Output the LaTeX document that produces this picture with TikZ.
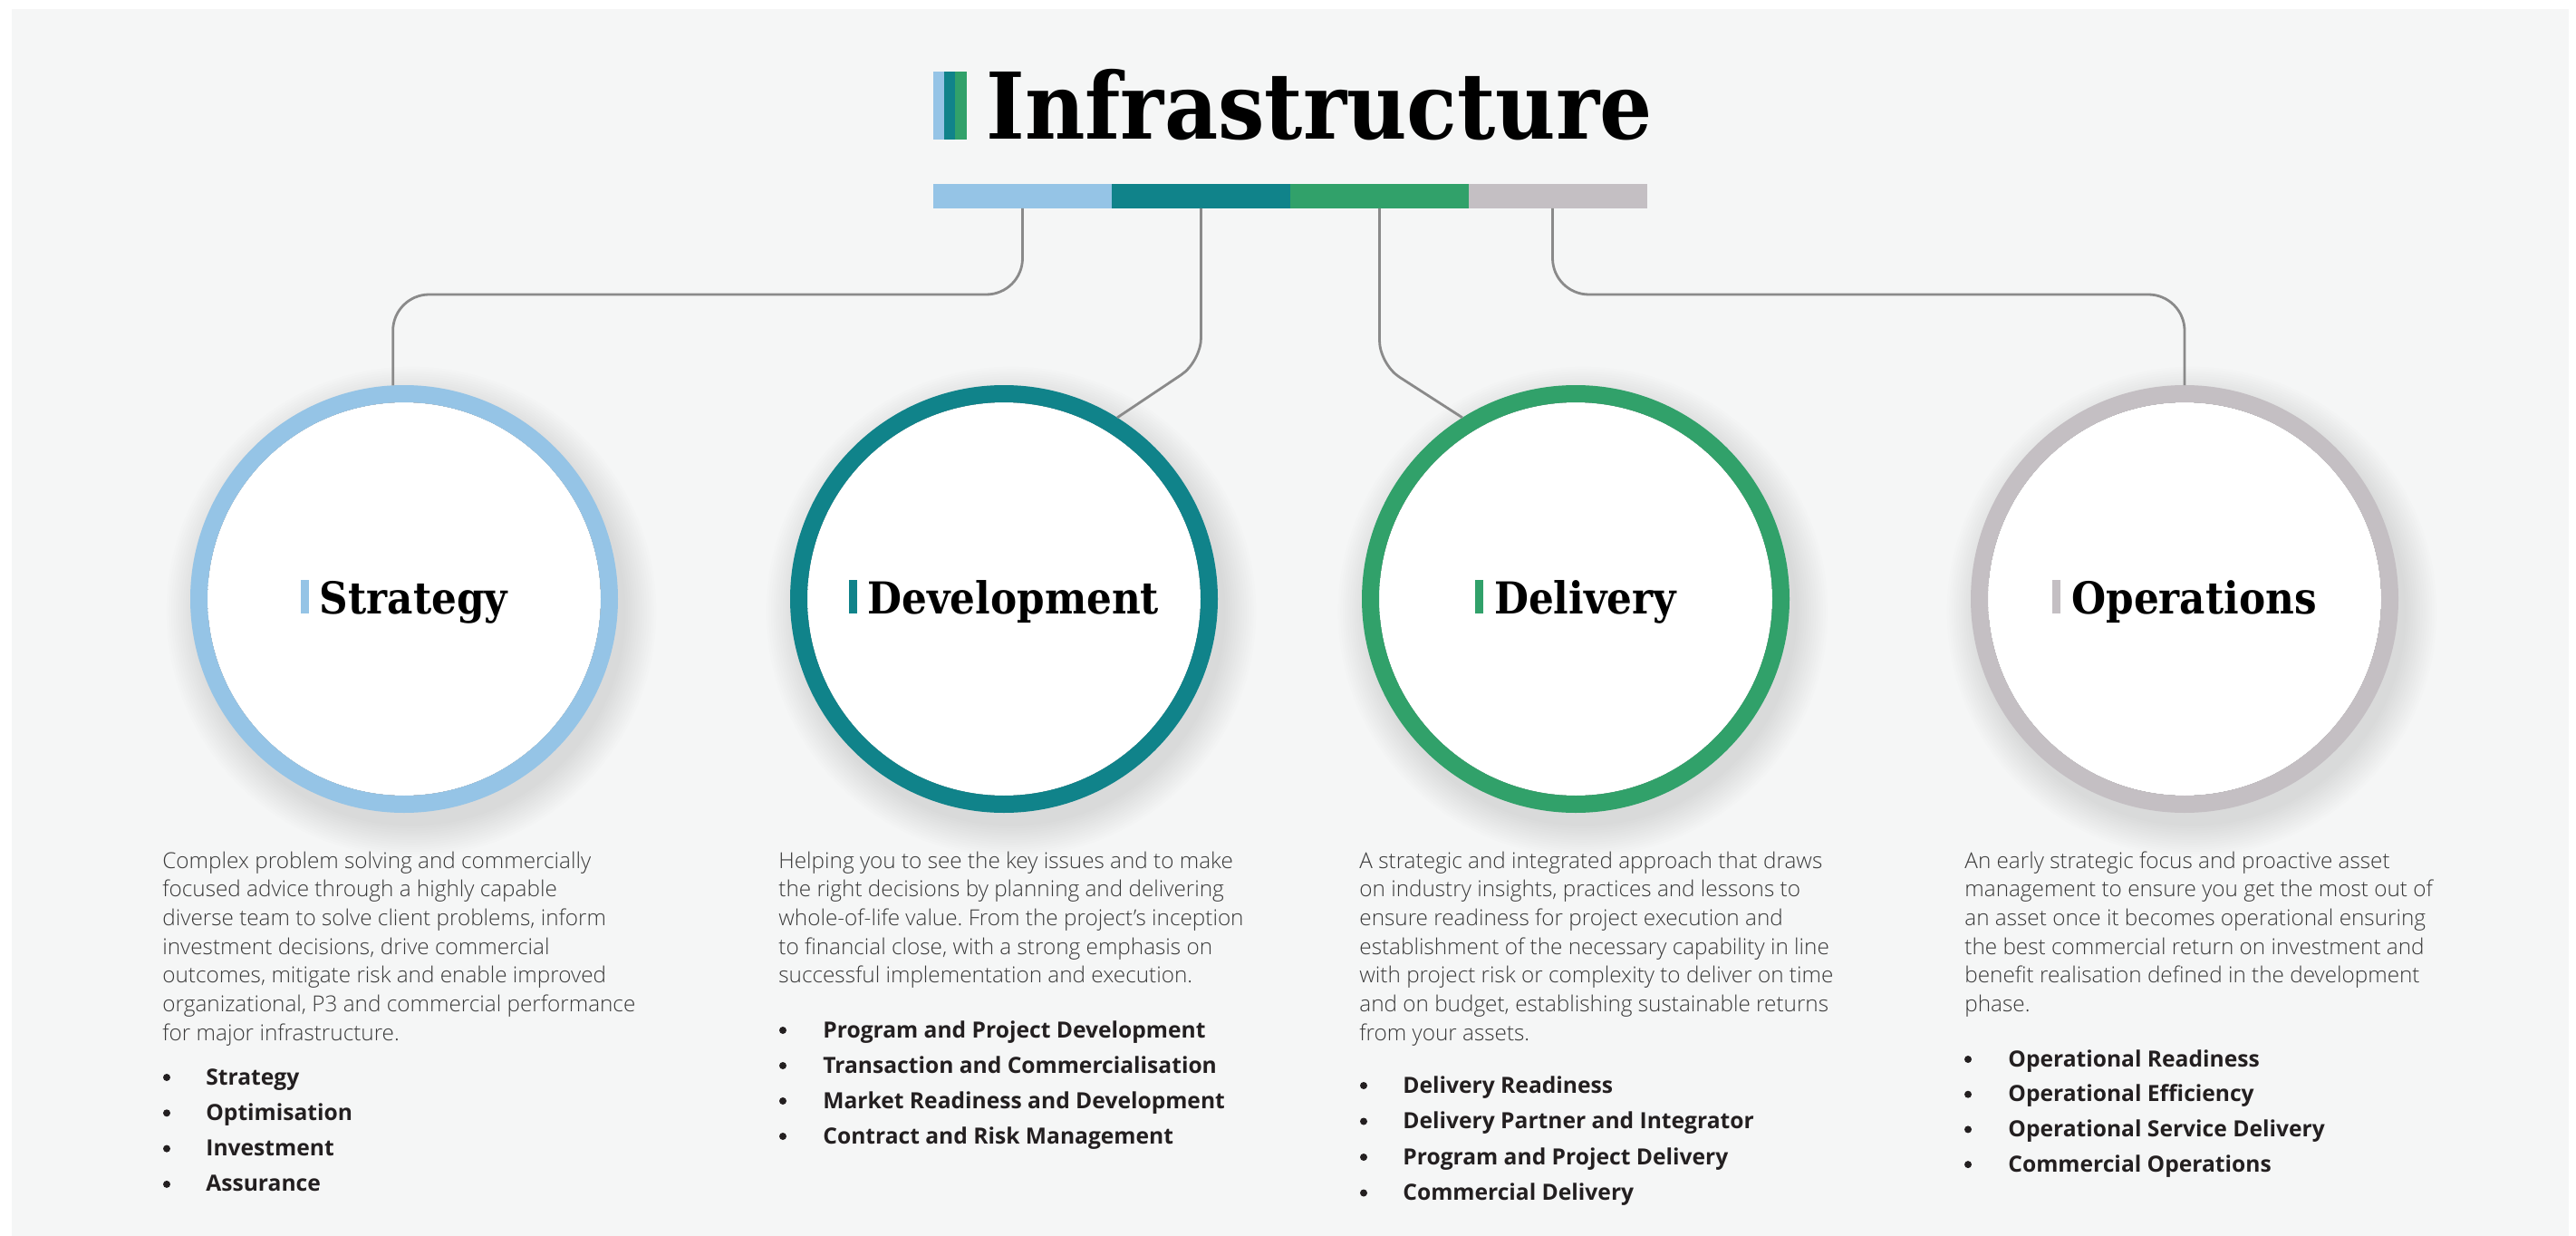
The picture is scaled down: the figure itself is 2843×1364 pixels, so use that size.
\documentclass[tikz,border=0pt]{standalone}
\usepackage{fontspec}
\usetikzlibrary{calc}
\IfFontExistsTF{Open Sans Light}{\newfontfamily\bodyfont{Open Sans Light}}{\newfontfamily\bodyfont{Open Sans}}
\newfontfamily\itemfont{Open Sans}
\IfFontExistsTF{DejaVu Serif Condensed}{\newfontfamily\headfont{DejaVu Serif Condensed}}{\newfontfamily\headfont{DejaVu Serif}[FakeStretch=0.9]}
\definecolor{cblue}{HTML}{95C4E6}
\definecolor{cteal}{HTML}{10838A}
\definecolor{cgreen}{HTML}{31A16A}
\definecolor{cgray}{HTML}{C4BFC3}
\definecolor{bgcol}{HTML}{F5F6F6}
\definecolor{conncol}{HTML}{8A8A8A}
\definecolor{bodycol}{HTML}{3A3A3A}
\definecolor{itemcol}{HTML}{231F20}
\frenchspacing
\pgfdeclareradialshading{innerglow}{\pgfpoint{0bp}{0bp}}{color(0bp)=(white); color(43bp)=(white); color(50bp)=(black!9); color(70bp)=(black!9)}
\begin{document}
\begin{tikzpicture}[x=0.5pt,y=-0.5pt,
  conn/.style={draw=conncol, line width=1.4pt, rounded corners=20pt},
  ringnode/.style={circle, minimum size=226.5pt, inner sep=0pt, line width=9.5pt, draw=#1},
  barseg/.style={rectangle, fill=#1, minimum width=98.5pt, minimum height=13.5pt, inner sep=0pt, outer sep=0pt, anchor=north west},
  circlabel/.style={anchor=base, inner sep=0pt, font=\headfont\bfseries\fontsize{24.3}{29}\selectfont},
  paratext/.style={anchor=base west, inner sep=0pt, font=\bodyfont\fontsize{12.15}{14}\selectfont, text=bodycol},
  itemtext/.style={anchor=base west, inner sep=0pt, font=\itemfont\bfseries\fontsize{12.3}{14}\selectfont, text=itemcol},
  bulletdot/.style={circle, fill=itemcol, minimum size=4pt, inner sep=0pt}
]
\useasboundingbox (0,0) rectangle (2843,1364);
\fill[white] (0,0) rectangle (2843,1364);
\fill[bgcol] (13,10) rectangle (2835,1364);

% title
\fill[cblue] (1030,79) rectangle (1042,154);
\fill[cteal] (1042,79) rectangle (1054,154);
\fill[cgreen] (1054,79) rectangle (1067,154);
\node[anchor=base west, inner sep=0pt, font=\headfont\bfseries\fontsize{50.8}{60}\selectfont] (title) at (1088,154) {Infrastructure};

% colour bar
\node[barseg=cblue] (s1) at (1030,203) {};
\node[barseg=cteal] (s2) at (1227,203) {};
\node[barseg=cgreen] (s3) at (1424,203) {};
\node[barseg=cgray] (s4) at (1621,203) {};

% circles
\coordinate (c1) at (446,661);
\coordinate (c2) at (1108,661);
\coordinate (c3) at (1739,661);
\coordinate (c4) at (2411,661);
\foreach \c in {c1,c2,c3,c4}{
  \foreach \k in {1,...,14}{
    \fill[black, opacity=0.008] ($(\c)+(8,14)$) circle ({117pt+\k*1.3pt});
  }
  \fill[shading=innerglow] (\c) circle (108.5pt);
}
\node[ringnode=cblue] (r1) at (c1) {};
\node[ringnode=cteal] (r2) at (c2) {};
\node[ringnode=cgreen] (r3) at (c3) {};
\node[ringnode=cgray] (r4) at (c4) {};

\node[circlabel] (l1) at (446,677) {\textcolor{cblue}{\rule{4.5pt}{18.5pt}}\hspace{6pt}Strategy};
\node[circlabel] (l2) at (1108,677) {\textcolor{cteal}{\rule{4.5pt}{18.5pt}}\hspace{6pt}Development};
\node[circlabel] (l3) at (1739,677) {\textcolor{cgreen}{\rule{4.5pt}{18.5pt}}\hspace{6pt}Delivery};
\node[circlabel] (l4) at (2411,677) {\textcolor{cgray}{\rule{4.5pt}{18.5pt}}\hspace{6pt}Operations};

% connectors
\coordinate (hy) at (0,325);
\coordinate (k2) at (0,399);
\coordinate (k3) at (0,402);
\coordinate (s4b) at ($(s4.south)+(-6,0)$);
\draw[conn] (s1.south) -- (s1.south |- hy) -- (r1.93.5 |- hy) -- (r1.93.5);
\draw[conn, rounded corners=13pt] (s2.south) -- (s2.south |- k2) -- (r2.58);
\draw[conn, rounded corners=13pt] (s3.south) -- (s3.south |- k3) -- (r3.122);
\draw[conn] (s4b) -- (s4b |- hy) -- (r4.north |- hy) -- (r4.north);

% block 1
\foreach \t [count=\i] in {{Complex problem solving and commercially},{focused advice through a highly capable},{diverse team to solve client problems, inform},{investment decisions, drive commercial},{outcomes, mitigate risk and enable improved},{organizational, P3 and commercial performance},{for major infrastructure.}}
  \node[paratext] (pa-\i) at (179,{958+31.7*(\i-1)}) {\t};
\foreach \t [count=\i] in {Strategy,Optimisation,Investment,Assurance}{
  \node[bulletdot] (ba-\i) at (184,{1197+39.3*(\i-1)-8}) {};
  \node[itemtext] (ia-\i) at (227,{1197+39.3*(\i-1)}) {\t};
}

% block 2
\foreach \t [count=\i] in {{Helping you to see the key issues and to make},{the right decisions by planning and delivering},{whole-of-life value. From the project’s inception},{to financial close, with a strong emphasis on},{successful implementation and execution.}}
  \node[paratext] (pb-\i) at (859,{958+31.7*(\i-1)}) {\t};
\foreach \t [count=\i] in {Program and Project Development,Transaction and Commercialisation,Market Readiness and Development,Contract and Risk Management}{
  \node[bulletdot] (bb-\i) at (864,{1145+39*(\i-1)-8}) {};
  \node[itemtext] (ib-\i) at (908,{1145+39*(\i-1)}) {\t};
}

% block 3
\foreach \t [count=\i] in {{A strategic and integrated approach that draws},{on industry insights, practices and lessons to},{ensure readiness for project execution and},{establishment of the necessary capability in line},{with project risk or complexity to deliver on time},{and on budget, establishing sustainable returns},{from your assets.}}
  \node[paratext] (pc-\i) at (1500,{958+31.7*(\i-1)}) {\t};
\foreach \t [count=\i] in {Delivery Readiness,Delivery Partner and Integrator,Program and Project Delivery,Commercial Delivery}{
  \node[bulletdot] (bc-\i) at (1505,{1206+39.5*(\i-1)-8}) {};
  \node[itemtext] (ic-\i) at (1548,{1206+39.5*(\i-1)}) {\t};
}

% block 4
\foreach \t [count=\i] in {{An early strategic focus and proactive asset},{management to ensure you get the most out of},{an asset once it becomes operational ensuring},{the best commercial return on investment and},{benefit realisation defined in the development},{phase.}}
  \node[paratext] (pd-\i) at (2168,{958+31.7*(\i-1)}) {\t};
\foreach \t [count=\i] in {Operational Readiness,Operational Efficiency,Operational Service Delivery,Commercial Operations}{
  \node[bulletdot] (bd-\i) at (2172,{1177+38.7*(\i-1)-8}) {};
  \node[itemtext] (id-\i) at (2216,{1177+38.7*(\i-1)}) {\t};
}
\end{tikzpicture}
\end{document}
